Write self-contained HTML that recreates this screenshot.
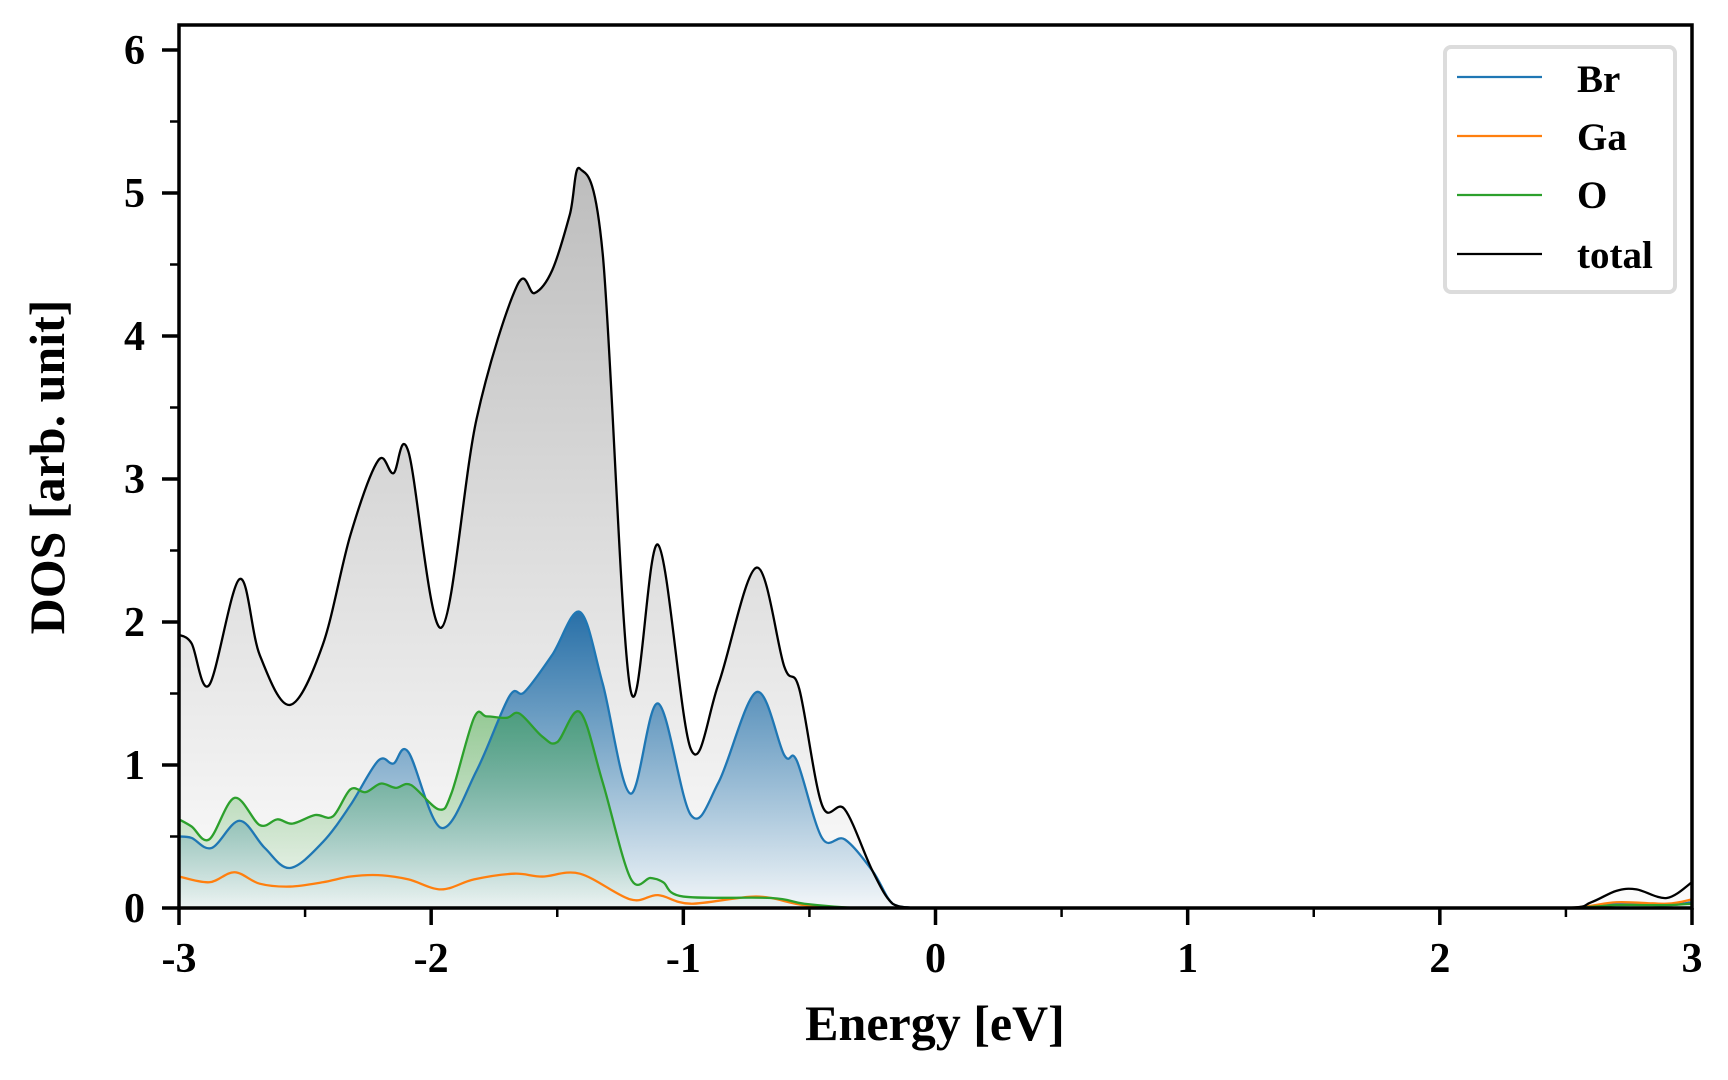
<!DOCTYPE html>
<html><head><meta charset="utf-8"><style>
html,body{margin:0;padding:0;background:#fff;}
svg{display:block;}
text{font-family:"Liberation Serif",serif;font-weight:bold;fill:#000;}
</style></head><body>
<svg id="chart" width="1728" height="1080" viewBox="0 0 1728 1080">
<defs>
<linearGradient id="gTot" x1="0" y1="0" x2="0" y2="1"><stop offset="0" stop-color="#bdbdbd"/><stop offset="1" stop-color="#bdbdbd" stop-opacity="0.05"/></linearGradient>
<linearGradient id="gBr" x1="0" y1="0" x2="0" y2="1"><stop offset="0" stop-color="#1f6aa5" stop-opacity="0.95"/><stop offset="1" stop-color="#1f77b4" stop-opacity="0.04"/></linearGradient>
<linearGradient id="gO" x1="0" y1="0" x2="0" y2="1"><stop offset="0" stop-color="#2ca02c" stop-opacity="0.45"/><stop offset="1" stop-color="#2ca02c" stop-opacity="0.03"/></linearGradient>
<clipPath id="clip"><rect x="179" y="25" width="1513" height="883"/></clipPath>
</defs>
<g id="fills" clip-path="url(#clip)"></g>
<g id="lines" clip-path="url(#clip)"></g>
<g id="axes"></g>
<g>
<rect x="1445" y="47" width="230" height="245" rx="6" fill="#fff" stroke="#dcdcdc" stroke-width="4"/>
<line x1="1457" y1="77" x2="1542" y2="77" stroke="#1f77b4" stroke-width="2.2"/><text x="1577" y="92" font-size="39">Br</text>
<line x1="1457" y1="136" x2="1542" y2="136" stroke="#ff7f0e" stroke-width="2.2"/><text x="1577" y="150" font-size="39">Ga</text>
<line x1="1457" y1="195" x2="1542" y2="195" stroke="#2ca02c" stroke-width="2.2"/><text x="1577" y="208" font-size="39">O</text>
<line x1="1457" y1="254" x2="1542" y2="254" stroke="#000" stroke-width="2.2"/><text x="1577" y="268" font-size="39">total</text>
</g>
<text x="935" y="1040" font-size="50" text-anchor="middle">Energy [eV]</text>
<text transform="translate(64,467) rotate(-90)" font-size="50" text-anchor="middle">DOS [arb. unit]</text>
</svg>
<script>
const totalE=[-3,-2.95,-2.88,-2.76,-2.68,-2.56,-2.43,-2.32,-2.21,-2.15,-2.09,-1.96,-1.82,-1.66,-1.59,-1.52,-1.45,-1.41,-1.32,-1.21,-1.10,-0.97,-0.86,-0.71,-0.60,-0.54,-0.45,-0.36,-0.25,-0.17,-0.08,0,1,2,2.5,2.6,2.7,2.78,2.9,3];
const totalV=[1.91,1.85,1.56,2.30,1.77,1.42,1.84,2.61,3.13,3.04,3.19,1.96,3.42,4.35,4.30,4.46,4.85,5.17,4.58,1.53,2.54,1.11,1.57,2.38,1.69,1.53,0.72,0.69,0.26,0.03,0,0,0,0,0,0.04,0.12,0.13,0.07,0.18];
const brE=[-3,-2.95,-2.87,-2.76,-2.66,-2.56,-2.43,-2.32,-2.21,-2.15,-2.09,-1.96,-1.82,-1.69,-1.63,-1.52,-1.41,-1.32,-1.21,-1.10,-0.97,-0.86,-0.71,-0.60,-0.55,-0.45,-0.36,-0.25,-0.17,-0.08,0,1,2,2.5,2.7,2.9,3];
const brV=[0.50,0.49,0.42,0.61,0.42,0.28,0.46,0.72,1.03,1.01,1.09,0.56,0.96,1.48,1.51,1.77,2.07,1.57,0.80,1.43,0.65,0.88,1.51,1.07,1.03,0.49,0.48,0.26,0.03,0,0,0,0,0,0.03,0.02,0.04];
const oE=[-3,-2.95,-2.88,-2.78,-2.68,-2.61,-2.55,-2.46,-2.39,-2.32,-2.26,-2.20,-2.14,-2.08,-1.97,-1.92,-1.83,-1.78,-1.70,-1.65,-1.56,-1.50,-1.41,-1.32,-1.21,-1.13,-1.08,-1.00,-0.65,-0.52,-0.3,0,1,2,2.5,2.7,2.9,3];
const oV=[0.62,0.57,0.48,0.77,0.58,0.62,0.59,0.65,0.64,0.83,0.81,0.87,0.84,0.86,0.69,0.80,1.33,1.34,1.33,1.36,1.20,1.16,1.37,0.88,0.21,0.21,0.18,0.08,0.07,0.03,0,0,0,0,0,0.02,0.02,0.03];
const gaE=[-3,-2.88,-2.78,-2.68,-2.56,-2.43,-2.32,-2.21,-2.09,-1.96,-1.83,-1.67,-1.56,-1.41,-1.21,-1.10,-0.97,-0.71,-0.52,-0.3,0,1,2,2.5,2.7,2.9,3];
const gaV=[0.22,0.18,0.25,0.17,0.15,0.18,0.22,0.23,0.20,0.13,0.20,0.24,0.22,0.24,0.06,0.09,0.03,0.08,0.02,0,0,0,0,0,0.04,0.03,0.06];
const xTicks=[-3,-2,-1,0,1,2,3];
const yTicks=[0,1,2,3,4,5,6];

const X0=179,X1=1692,Y0=908,YU=143;
const sx=e=>X0+(e+3)/6*(X1-X0);
const sy=v=>Y0-v*YU;
const NS='http://www.w3.org/2000/svg';
function mk(tag,attrs,parent){const el=document.createElementNS(NS,tag);for(const k in attrs)el.setAttribute(k,attrs[k]);parent.appendChild(el);return el;}
function pathD(E,V){
  const p=E.map((e,i)=>[sx(e),sy(V[i])]);
  let d='M'+p[0][0]+','+p[0][1];
  for(let i=0;i<p.length-1;i++){
    const a=p[i-1]||p[i],b=p[i],c=p[i+1],n=p[i+2]||c;
    let c1y=b[1]+(c[1]-a[1])/6,c2y=c[1]-(n[1]-b[1])/6;
    if(b[1]>=Y0-0.5&&c[1]>=Y0-0.5){c1y=Y0;c2y=Y0;}
    c1y=Math.min(c1y,Y0);c2y=Math.min(c2y,Y0);
    d+=' C'+(b[0]+(c[0]-a[0])/6)+','+c1y+' '+(c[0]-(n[0]-b[0])/6)+','+c2y+' '+c[0]+','+c[1];
  }
  return d;
}
const fills=document.getElementById('fills'),lines=document.getElementById('lines'),axes=document.getElementById('axes');
const series=[
 {n:'total',E:totalE,V:totalV,c:'#000',g:'gTot'},
 {n:'br',E:brE,V:brV,c:'#1f77b4',g:'gBr'},
 {n:'o',E:oE,V:oV,c:'#2ca02c',g:'gO'},
 {n:'ga',E:gaE,V:gaV,c:'#ff7f0e',g:null}];
series.forEach(s=>{
  if(!s.g) return;
  const d=pathD(s.E,s.V);
  const f=mk('path',{d:d+' L'+sx(3)+','+Y0+' L'+sx(-3)+','+Y0+' Z',fill:'url(#'+s.g+')'},fills);
  
  
});
[series[1],series[3],series[2],series[0]].forEach(s=>{
  const l=mk('path',{d:pathD(s.E,s.V),fill:'none',stroke:s.c,'stroke-width':2.3},lines);
  
  
});
const fr=mk('rect',{x:X0,y:25,width:X1-X0,height:Y0-25,fill:'none',stroke:'#000','stroke-width':3.5},axes);


xTicks.forEach(t=>{
  mk('line',{x1:sx(t),x2:sx(t),y1:Y0,y2:Y0+17,stroke:'#000','stroke-width':3.5},axes);
  const tx=mk('text',{x:sx(t),y:972,'font-size':42,'text-anchor':'middle'},axes);
  tx.textContent=String(t);
  
  
  if(t<3) mk('line',{x1:sx(t+0.5),x2:sx(t+0.5),y1:Y0,y2:Y0+9,stroke:'#000','stroke-width':2.5},axes);
});
yTicks.forEach(t=>{
  mk('line',{x1:X0-17,x2:X0,y1:sy(t),y2:sy(t),stroke:'#000','stroke-width':3.5},axes);
  const tx=mk('text',{x:145,y:sy(t)+14,'font-size':42,'text-anchor':'end'},axes);
  tx.textContent=String(t);
  
  
  if(t<6) mk('line',{x1:X0-9,x2:X0,y1:sy(t+0.5),y2:sy(t+0.5),stroke:'#000','stroke-width':2.5},axes);
});
</script>
</body></html>
